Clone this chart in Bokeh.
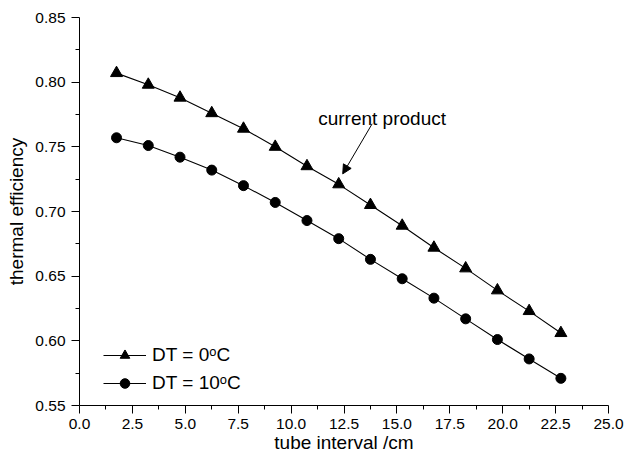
from bokeh.plotting import figure
from bokeh.models import (FixedTicker, PrintfTickFormatter, Legend, LegendItem,
                          Label, Arrow, NormalHead, Range1d)
from bokeh.embed import file_html
from bokeh.resources import INLINE

# ---- data ----
tube_interval = [1.75, 3.25, 4.75, 6.25, 7.75, 9.25, 10.75, 12.25,
                 13.75, 15.25, 16.75, 18.25, 19.75, 21.25, 22.75]
eff_dt0 = [0.807, 0.798, 0.788, 0.776, 0.764, 0.750, 0.735, 0.721,
           0.705, 0.689, 0.672, 0.656, 0.639, 0.623, 0.606]
eff_dt10 = [0.757, 0.751, 0.742, 0.732, 0.720, 0.707, 0.693, 0.679,
            0.663, 0.648, 0.633, 0.617, 0.601, 0.586, 0.571]

x_ticks = [0.0, 2.5, 5.0, 7.5, 10.0, 12.5, 15.0, 17.5, 20.0, 22.5, 25.0]
x_minor = [1.25, 3.75, 6.25, 8.75, 11.25, 13.75, 16.25, 18.75, 21.25, 23.75]
y_ticks = [0.55, 0.60, 0.65, 0.70, 0.75, 0.80, 0.85]
y_minor = [0.575, 0.625, 0.675, 0.725, 0.775, 0.825]

series_labels = ["DT = 0\u1d52C", "DT = 10\u1d52C"]
x_title = "tube interval /cm"
y_title = "thermal efficiency"
note_text = "current product"
note_pos = (11.28, 0.7719)
arrow_start = (13.83, 0.7678)
arrow_end = (12.44, 0.7291)

FONT = "Liberation Sans"

p = figure(width=624, height=457, output_backend="svg", toolbar_location=None,
           x_range=Range1d(0, 25), y_range=Range1d(0.55, 0.85),
           min_border_left=79, min_border_right=16,
           min_border_top=17, min_border_bottom=52)
p.outline_line_color = None
p.grid.visible = False
p.background_fill_color = "white"
p.border_fill_color = "white"

for ax, ticks, minor, fmt, title in [
        (p.xaxis[0], x_ticks, x_minor, "%.1f", x_title),
        (p.yaxis[0], y_ticks, y_minor, "%.2f", y_title)]:
    ax.ticker = FixedTicker(ticks=ticks, minor_ticks=minor)
    ax.formatter = PrintfTickFormatter(format=fmt)
    ax.axis_label = title
    ax.axis_line_color = "black"
    ax.axis_line_width = 1
    ax.major_tick_line_color = "black"
    ax.minor_tick_line_color = "black"
    ax.major_tick_in = 0
    ax.major_tick_out = 8
    ax.minor_tick_in = 0
    ax.minor_tick_out = 4
    ax.major_label_text_font = FONT
    ax.major_label_text_font_size = "15.5px"
    ax.major_label_text_color = "black"
    ax.axis_label_text_font = FONT
    ax.axis_label_text_font_size = "19px"
    ax.axis_label_text_font_style = "normal"
    ax.axis_label_text_color = "black"

p.xaxis[0].major_label_standoff = 5
p.xaxis[0].axis_label_standoff = 0
p.yaxis[0].major_label_standoff = 6
p.yaxis[0].axis_label_standoff = 5

l0 = p.line(tube_interval, eff_dt0, line_color="black", line_width=1.1)
s0 = p.scatter(tube_interval, eff_dt0, marker="triangle", size=12,
               fill_color="black", line_color="black")
l1 = p.line(tube_interval, eff_dt10, line_color="black", line_width=1.1)
s1 = p.scatter(tube_interval, eff_dt10, marker="circle", size=10,
               fill_color="black", line_color="black")

leg = Legend(items=[LegendItem(label=series_labels[0], renderers=[l0, s0]),
                    LegendItem(label=series_labels[1], renderers=[l1, s1])],
             location=(24, 10), padding=5, margin=0, spacing=4,
             glyph_width=43, glyph_height=24, label_height=24,
             label_standoff=6, label_text_font=FONT,
             label_text_font_size="19px", label_text_color="black",
             border_line_color=None, background_fill_alpha=0)
p.add_layout(leg)

p.add_layout(Label(x=note_pos[0], y=note_pos[1], text=note_text,
                   text_font=FONT, text_font_size="19px", text_color="black",
                   text_baseline="alphabetic"))
p.add_layout(Arrow(x_start=arrow_start[0], y_start=arrow_start[1],
                   x_end=arrow_end[0], y_end=arrow_end[1],
                   line_color="black", line_width=1,
                   end=NormalHead(size=9, fill_color="black", line_color="black",
                                  line_width=1)))

open("out.html", "w").write(file_html(p, INLINE))
